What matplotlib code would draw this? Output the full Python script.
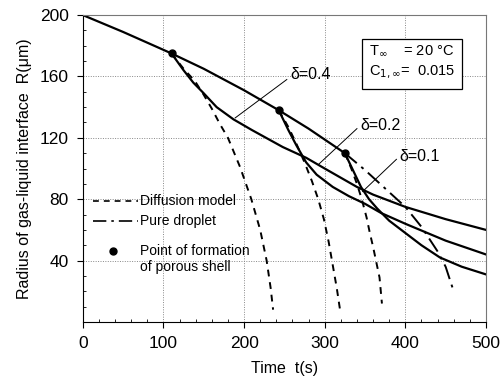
import matplotlib
matplotlib.use("Agg")
import matplotlib.pyplot as plt
from matplotlib.ticker import MultipleLocator

plt.rcParams['font.family'] = ['Liberation Sans', 'DejaVu Sans']

# pure droplet (solid until shell forms, dash-dot afterwards)
pure_t = [0, 50, 110, 150, 200, 243, 280, 325]
pure_R = [200, 189, 175, 165, 151, 138, 126, 110]
pure_dd_t = [325, 350, 375, 400, 420, 440, 450, 460]
pure_dd_R = [110, 99, 87, 75, 62, 46, 36, 20]

# porous shell curves (solid)
d04_t = [110, 125, 137, 150, 166, 187, 210, 248, 277, 300, 320, 340, 360, 400, 450, 500]
d04_R = [175, 164, 156, 149, 140, 132, 125, 114, 107, 100, 94, 88, 83, 75, 67, 60]
d02_t = [243, 255, 265, 277, 290, 310, 330, 350, 370, 400, 450, 500]
d02_R = [138, 125, 115, 104, 96, 88, 82, 77, 71, 64, 53, 44]
d01_t = [325, 335, 345, 355, 365, 380, 400, 420, 443, 470, 500]
d01_R = [110, 99, 88, 80, 74, 66, 58, 50, 42, 36, 31]

# diffusion model (dashed)
dif04_t = [110, 125, 139, 150, 160, 170, 180, 195, 209, 220, 228, 233, 236]
dif04_R = [175, 165, 157, 148, 139, 129, 120, 101, 80, 60, 40, 22, 8]
dif02_t = [243, 255, 265, 275, 284, 292, 299, 305, 310, 315, 319]
dif02_R = [138, 127, 116, 104, 92, 80, 67, 52, 37, 22, 8]
dif01_t = [325, 333, 340, 346, 352, 356, 360, 364, 368, 371]
dif01_R = [110, 100, 90, 80, 68, 58, 49, 39, 29, 12]

shell_t = [110, 243, 325]
shell_R = [175, 138, 110]

fig = plt.figure(figsize=(5.02, 3.77), dpi=100)
ax = fig.add_axes([0.165, 0.146, 0.803, 0.814])

ax.grid(True, which='major', color='#888888', linestyle=(0, (1, 1.5)), linewidth=0.7)

lw = 1.6
ax.plot(pure_t, pure_R, color='black', lw=lw)
ax.plot(pure_dd_t, pure_dd_R, color='black', lw=1.4, linestyle=(0, (8, 3, 1.5, 3)))
for t, r in [(d04_t, d04_R), (d02_t, d02_R), (d01_t, d01_R)]:
    ax.plot(t, r, color='black', lw=lw)
for t, r in [(dif04_t, dif04_R), (dif02_t, dif02_R), (dif01_t, dif01_R)]:
    ax.plot(t, r, color='black', lw=1.4, linestyle=(0, (3.5, 3)))
ax.plot(shell_t, shell_R, 'o', color='black', markersize=5)

# delta labels with leader lines
ax.plot([189, 253], [133, 158], color='black', lw=0.7)
ax.text(257, 161, 'δ=0.4', fontsize=11.5, va='center')
ax.plot([293, 340], [103, 126], color='black', lw=0.7)
ax.text(344, 128, 'δ=0.2', fontsize=11.5, va='center')
ax.plot([347, 389], [85, 106], color='black', lw=0.7)
ax.text(393, 108, 'δ=0.1', fontsize=11.5, va='center')

# conditions box
ax.text(0.71, 0.845, 'T$_{\\infty}$    = 20 °C\nC$_{1,\\infty}$=  0.015', transform=ax.transAxes,
        fontsize=10.5, va='center', linespacing=1.5,
        bbox=dict(boxstyle='square,pad=0.5', facecolor='white', edgecolor='black', lw=0.9))

# legend drawn by hand
ax.plot([12, 68], [79, 79], color='black', lw=1.2, linestyle=(0, (3.5, 3)))
ax.text(71, 79, 'Diffusion model', fontsize=10, va='center')
ax.plot([12, 68], [66, 66], color='black', lw=1.2, linestyle=(0, (8, 3, 1.5, 3)))
ax.text(71, 66, 'Pure droplet', fontsize=10, va='center')
ax.plot([37], [46], 'o', color='black', markersize=5)
ax.text(71, 46.5, 'Point of formation', fontsize=10, va='center')
ax.text(71, 35.5, 'of porous shell', fontsize=10, va='center')

ax.set_xlim(0, 500)
ax.set_ylim(0, 200)
ax.set_xticks([0, 100, 200, 300, 400, 500])
ax.set_yticks([40, 80, 120, 160, 200])
ax.xaxis.set_minor_locator(MultipleLocator(20))
ax.yaxis.set_minor_locator(MultipleLocator(10))
ax.tick_params(which='major', direction='out', length=4, labelsize=12.5, pad=6)
ax.tick_params(which='minor', direction='in', length=2)
ax.set_xlabel('Time  t(s)', fontsize=11.5, labelpad=7)
ax.set_ylabel('Radius of gas-liquid interface  R(μm)', fontsize=11.5, labelpad=6)
for s in ['top', 'right']:
    ax.spines[s].set_color('#777777')
    ax.spines[s].set_linewidth(0.8)

fig.savefig('out.png', dpi=100)
